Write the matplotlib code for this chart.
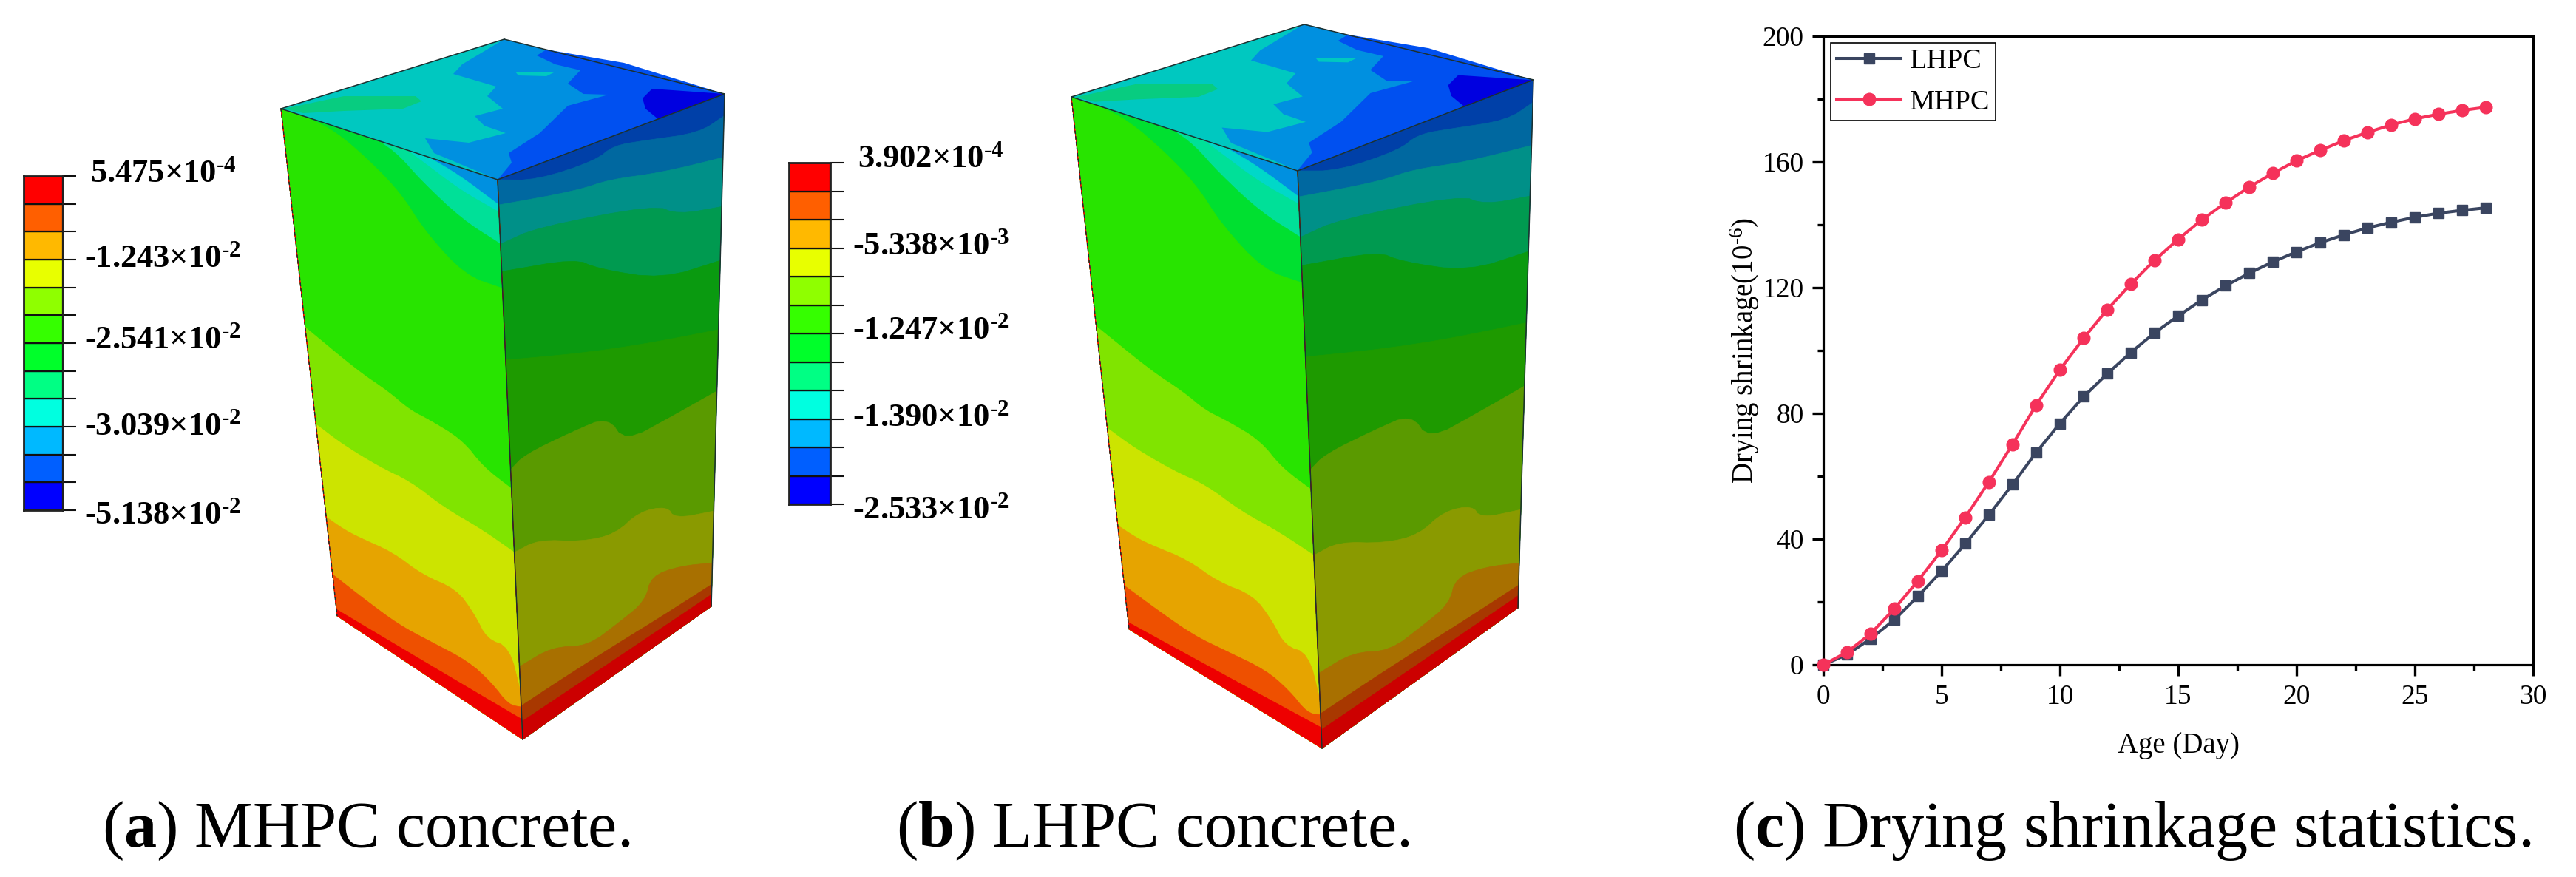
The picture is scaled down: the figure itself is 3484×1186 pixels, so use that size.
import numpy as np
import matplotlib
matplotlib.use("Agg")
from matplotlib import pyplot as plt
from matplotlib.patches import Polygon

plt.rcParams['font.family'] = ['Liberation Serif', 'DejaVu Serif']
plt.rcParams['mathtext.fontset'] = 'custom'
plt.rcParams['mathtext.rm'] = 'Liberation Serif'
plt.rcParams['mathtext.bf'] = 'Liberation Serif:bold'
plt.rcParams['mathtext.default'] = 'regular'

# drying shrinkage curves
age = list(range(29))
lhpc = [0, 3.2, 8.3, 14.3, 21.8, 29.8, 38.5, 47.7, 57.4, 67.6, 76.8, 85.3, 92.6, 99.4, 105.6,
        111, 116.1, 120.6, 124.6, 128.2, 131.4, 134.3, 136.8, 139, 140.8, 142.4, 143.7, 144.6, 145.4]
mhpc = [0, 4, 9.9, 17.8, 26.7, 36.4, 46.9, 58.2, 70.2, 82.7, 93.9, 103.9, 113, 121.2, 128.7,
        135.4, 141.6, 147, 152, 156.4, 160.4, 163.7, 166.8, 169.4, 171.8, 173.7, 175.2, 176.4, 177.4]

# legend colour bars, top to bottom
bar_colors = ['#ff0000', '#ff5f00', '#ffb900', '#e8ff00', '#8fff00', '#35ff00',
              '#00ff2a', '#00ff84', '#00ffe0', '#00b9ff', '#005fff', '#0000ff']
labels_a = ['5.475', '-1.243', '-2.541', '-3.039', '-5.138']
powers_a = ['4', '2', '2', '2', '2']
labels_b = ['3.902', '-5.338', '-1.247', '-1.390', '-2.533']
powers_b = ['4', '3', '2', '2', '2']

# band boundaries on the left face, (u across, v down)
left_colors = ['#0090e0', '#00d8c8', '#00e098', '#00e030', '#28e400', '#80e400',
               '#cce400', '#e6a400', '#ee5000', '#ee0000']
left_edges = [
    [(.68, 0), (.82, .015), (1, .045)],
    [(.58, 0), (.65, .012), (.82, .042), (1, .058)],
    [(.45, 0), (.54, .015), (.64, .05), (.82, .095), (1, .115)],
    [(.12, 0), (.25, .01), (.4, .045), (.54, .088), (.64, .143), (.82, .197), (1, .194)],
    [(0, .431), (.24, .469), (.4, .4825), (.5, .498), (.6, .499), (.76, .507), (.86, .538), (1, .552)],
    [(0, .622), (.13, .635), (.32, .641), (.48, .6375), (.64, .653), (.83, .656), (1, .666)],
    [(0, .805), (.09, .809), (.17, .807), (.35, .797), (.5, .807), (.68, .796), (.77, .823),
     (.83, .856), (.95, .845), (1, .915)],
    [(0, .918), (.17, .928), (.35, .935), (.52, .928), (.72, .92), (.84, .932), (.93, .953), (1, .942)],
    [(0, .987), (.5, .975), (1, .964)],
]

# band boundaries on the right face
right_colors = ['#0040a8', '#0068a0', '#009088', '#009a50', '#0a9a10', '#1e9a00',
                '#5a9a00', '#8a9a00', '#a87000', '#a83800', '#cc0000']
right_edges = [
    [(0, 0), (.17, .027), (.43, .033), (.51, .018), (.65, .031), (.89, .057), (1, .043)],
    [(0, .045), (.35, .075), (.49, .078), (.72, .104), (1, .124)],
    [(0, .115), (.17, .112), (.69, .16), (.8, .198), (1, .22)],
    [(0, .164), (.33, .197), (.43, .233), (.73, .308), (1, .325)],
    [(0, .322), (.49, .395), (1, .46)],
    [(0, .518), (.07, .505), (.3, .509), (.47, .516), (.55, .58), (.78, .581), (1, .58)],
    [(0, .666), (.12, .668), (.33, .717), (.5, .741), (.62, .726), (.76, .748), (.8, .781), (1, .814)],
    [(0, .87), (.17, .873), (.35, .914), (.52, .909), (.65, .902), (.68, .862), (.83, .879), (1, .915)],
    [(0, .94), (.25, .942), (.53, .947), (.72, .952), (1, .957)],
    [(0, .968), (1, .977)],
]

# corners of the first block
left_a, back_a, right_a, front_a = (380, 147), (682, 53), (980, 127), (673, 243)
low_left_a, low_front_a, low_right_a = (456, 833), (707, 1000), (962, 820)
# corners of the second block
left_b, back_b, right_b, front_b = (1449, 131), (1764, 33), (2074, 108), (1755, 231)
low_left_b, low_front_b, low_right_b = (1527, 851), (1788, 1012), (2053, 822)

# patches on the top face, in the first block's pixels
top_base = '#00c8c0'
top_teal = [(385, 147), (465, 130), (562, 130), (570, 137), (545, 147), (465, 150), (410, 153)]
top_blue = [(682, 53), (625, 87), (613, 100), (671, 117), (659, 130), (680, 147), (642, 157), (655, 170),
            (684, 180), (634, 193), (575, 187), (587, 207), (673, 243), (980, 127)]
top_blue2 = [(726, 75), (751, 87), (785, 95), (768, 113), (789, 127), (823, 128), (768, 143), (730, 180),
             (688, 207), (692, 220), (673, 243), (980, 127), (844, 85), (739, 67)]
top_blue3 = [(980, 127), (882, 120), (869, 133), (873, 147), (890, 161)]
top_spot = [(697, 97), (751, 97), (739, 103), (701, 102)]
top_patches = [(top_teal, '#08cc80'), (top_blue, '#0090e0'), (top_blue2, '#0050f0'),
               (top_blue3, '#0000e0'), (top_spot, '#00c8c0')]


def soften(pts, rounds=2):
    # corner cutting, keeps both ends of the boundary
    pts = np.array(pts, dtype=float)
    for _ in range(rounds):
        q = [pts[0]]
        for a, b in zip(pts[:-1], pts[1:]):
            q += [a * .75 + b * .25, a * .25 + b * .75]
        q.append(pts[-1])
        pts = np.array(q)
    return [tuple(p) for p in pts]


def bilinear(c, pts):
    # c = top left, top right, bottom right, bottom left
    c = np.array(c, dtype=float)
    out = []
    for u, v in pts:
        top = c[0] + (c[1] - c[0]) * u
        low = c[3] + (c[2] - c[3]) * u
        out.append(top + (low - top) * v)
    return np.array(out)


def draw_face(ax, corners, colors, edges):
    ax.add_patch(Polygon(bilinear(corners, [(0, 0), (1, 0), (1, 1), (0, 1)]), color=colors[0], lw=0))
    for col, edge in zip(colors[1:], edges):
        pts = [(0, 0)] + soften(edge) + [(1, 1), (0, 1)]
        ax.add_patch(Polygon(bilinear(corners, pts), color=col, lw=0.5))


def draw_block(ax, left, back, right, front, low_left, low_front, low_right):
    draw_face(ax, [left, front, low_front, low_left], left_colors, left_edges)
    draw_face(ax, [front, right, low_right, low_front], right_colors, right_edges)
    # affine fit from the first block's top face to this one
    src = np.array([left_a, back_a, right_a, front_a], dtype=float)
    dst = np.array([left, back, right, front], dtype=float)
    A = np.c_[src, np.ones(4)]
    M = np.linalg.lstsq(A, dst, rcond=None)[0]
    ax.add_patch(Polygon(dst, color=top_base, lw=0))
    for pts, col in top_patches:
        p = np.c_[np.array(pts, dtype=float), np.ones(len(pts))] @ M
        ax.add_patch(Polygon(p, color=col, lw=0))
    for a, b, ls in [(left, back, '-'), (back, right, '-'), (left, front, '-'), (front, right, '-'),
                     (front, low_front, '-'), (right, low_right, '-'), (left, low_left, (0, (3, 2)))]:
        ax.plot([a[0], b[0]], [a[1], b[1]], color='#1c3030', lw=1.1, ls=ls)


def colorbar(fig, x0, x1, y0, y1, tick_px):
    bar = fig.add_axes([x0 / 3484, 1 - y1 / 1186, (x1 - x0) / 3484, (y1 - y0) / 1186])
    bar.barh(np.arange(12) + 0.5, [1] * 12, height=1, color=bar_colors[::-1], edgecolor='#111111', lw=1.6)
    bar.set_xlim(0, 1)
    bar.set_ylim(0, 12)
    bar.set_xticks([])
    bar.yaxis.tick_right()
    bar.set_yticks(range(13))
    bar.set_yticklabels([])
    bar.tick_params(axis='y', length=tick_px * 0.72, width=1.5, color='#111111')
    for s in bar.spines.values():
        s.set_linewidth(2)
        s.set_color('#222222')


def bar_labels(ax, labels, powers, xs, ys):
    for lab, pw, x, y in zip(labels, powers, xs, ys):
        ax.text(x, y, lab + r'$\mathbf{{\times}10^{\text{-}' + pw + '}}$', fontsize=32, fontweight='bold',
                ha='left', va='center', color='black')


fig = plt.figure(figsize=(34.84, 11.86), dpi=100, facecolor='white')
page = fig.add_axes([0, 0, 1, 1])
page.set_xlim(0, 3484)
page.set_ylim(1186, 0)
page.axis('off')

draw_block(page, left_a, back_a, right_a, front_a, low_left_a, low_front_a, low_right_a)
draw_block(page, left_b, back_b, right_b, front_b, low_left_b, low_front_b, low_right_b)

colorbar(fig, 32, 85, 238, 690, 18)
colorbar(fig, 1067, 1123, 220, 682, 19)
bar_labels(page, labels_a, powers_a, [122, 114, 114, 114, 114], [235, 350, 460, 577, 697])
bar_labels(page, labels_b, powers_b, [1160, 1153, 1153, 1153, 1153], [215, 333, 447, 565, 690])

page.text(138, 1145, r'($\mathbf{a}$) MHPC concrete.', fontsize=63.5, va='baseline')
page.text(1212, 1145, r'($\mathbf{b}$) LHPC concrete.', fontsize=63.5, va='baseline')
page.text(2344, 1145, r'($\mathbf{c}$) Drying shrinkage statistics.', fontsize=63.5, va='baseline')

ax = fig.add_axes([2466 / 3484, 1 - 899 / 1186, 960 / 3484, 850 / 1186])
ax.plot(age, lhpc, '-s', color='#3a4560', lw=2.9, ms=10.5, label='LHPC', clip_on=False, zorder=3)
ax.plot(age, mhpc, '-o', color='#f5325a', lw=2.9, ms=12, label='MHPC', clip_on=False, zorder=4)
ax.set_xlim(0, 30)
ax.set_ylim(0, 200)
ax.set_xticks(range(0, 31, 5))
ax.set_yticks(range(0, 201, 40))
ax.set_xticks(np.arange(2.5, 30, 5), minor=True)
ax.set_yticks(range(20, 200, 40), minor=True)
ax.tick_params(which='major', length=11, width=2.4, labelsize=27, pad=8)
ax.tick_params(which='minor', length=5.5, width=2.4)
for s in ax.spines.values():
    s.set_linewidth(2.3)
ax.set_xlabel('Age (Day)', fontsize=28, labelpad=22)
ax.set_ylabel(r'Drying shrinkage(10$^{\text{-}6}$)', fontsize=28, labelpad=1)
leg = ax.legend(loc='upper left', bbox_to_anchor=(0.0104, 0.99), borderaxespad=0, fontsize=27.5, frameon=True,
                fancybox=False, framealpha=1, edgecolor='black', handlelength=2.3, handletextpad=0.3,
                labelspacing=0.55, borderpad=0.2)
leg.get_frame().set_linewidth(1.2)

fig.savefig('out.png', dpi=100)
